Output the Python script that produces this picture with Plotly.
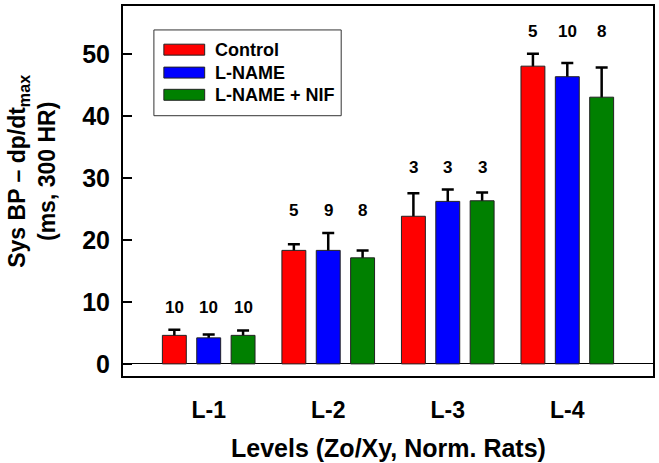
import plotly.graph_objects as go

levels = ["L-1", "L-2", "L-3", "L-4"]
groups = ["Control", "L-NAME", "L-NAME + NIF"]
colors = ["#FF0000", "#0000FF", "#008000"]

control_mean = [4.6, 18.3, 23.8, 48.0]
control_err = [0.9, 1.0, 3.7, 2.0]
lname_mean = [4.2, 18.3, 26.2, 46.3]
lname_err = [0.55, 2.8, 1.9, 2.2]
nif_mean = [4.6, 17.1, 26.3, 43.0]
nif_err = [0.8, 1.2, 1.35, 4.8]

n_control = ["10", "5", "3", "5"]
n_lname = ["10", "9", "3", "10"]
n_nif = ["10", "8", "3", "8"]

means = [control_mean, lname_mean, nif_mean]
errs = [control_err, lname_err, nif_err]
ns = [n_control, n_lname, n_nif]

FONT = "Liberation Sans, Arial, sans-serif"

fig = go.Figure()
# error bars (drawn first so the lower half is hidden behind the bars)
for i, g in enumerate(groups):
    fig.add_trace(go.Bar(
        x=levels, y=means[i], offsetgroup=str(i), showlegend=False,
        marker=dict(color="rgba(0,0,0,0)", line=dict(width=0)),
        error_y=dict(type="data", array=errs[i], symmetric=True,
                     color="black", thickness=2.5, width=6),
        hoverinfo="skip"))
for i, g in enumerate(groups):
    fig.add_trace(go.Bar(
        x=levels, y=means[i], offsetgroup=str(i), name=g, showlegend=False,
        marker=dict(color=colors[i], line=dict(color="#222222", width=1))))

annotations = []
# N labels above each group
for j, lev in enumerate(levels):
    top = max(means[i][j] + errs[i][j] for i in range(3))
    for i in range(3):
        annotations.append(dict(
            x=lev, y=top + 3.6, xref="x", yref="y", text=ns[i][j],
            showarrow=False, xshift=(i - 1) * 34.5,
            font=dict(family=FONT, size=17, color="black", weight="bold")))

# axis titles
annotations.append(dict(
    x=0.5, y=-0.195, xref="paper", yref="paper",
    text="Levels (Zo/Xy, Norm. Rats)", showarrow=False,
    xanchor="center", yanchor="middle",
    font=dict(family=FONT, size=25, color="black", weight="bold")))
annotations.append(dict(
    x=-0.171, y=0.553, xref="paper", yref="paper",
    text="Sys BP \u2013 dp/dt<sub>max</sub><br>(ms, 300 HR)", showarrow=False,
    textangle=-90, xanchor="center", yanchor="middle",
    font=dict(family=FONT, size=23, color="black", weight="bold")))

# custom legend
shapes = [dict(type="rect", xref="paper", yref="paper",
               x0=0.0583, x1=0.4117, y0=0.7035, y1=0.9353,
               line=dict(color="#333333", width=1), fillcolor="white", layer="below")]
row_y = [0.882, 0.820, 0.760]
for i, g in enumerate(groups):
    shapes.append(dict(type="rect", xref="paper", yref="paper",
                       x0=0.0771, x1=0.1541, y0=row_y[i] - 0.0148, y1=row_y[i] + 0.0148,
                       line=dict(color="#222222", width=1), fillcolor=colors[i]))
    annotations.append(dict(
        x=0.169, y=row_y[i], xref="paper", yref="paper", text=g,
        showarrow=False, xanchor="left", yanchor="middle",
        font=dict(family=FONT, size=18, color="black", weight="bold")))

fig.update_layout(
    width=659, height=463,
    margin=dict(l=123, r=4, t=5, b=87),
    paper_bgcolor="white", plot_bgcolor="white",
    barmode="group", bargap=0.1375, bargroupgap=0.304,
    showlegend=False,
    shapes=shapes, annotations=annotations,
    font=dict(family=FONT, color="black"),
    xaxis=dict(range=[-0.717, 3.717], showline=True, mirror=True,
               linecolor="black", linewidth=2, ticks="", showgrid=False,
               tickfont=dict(family=FONT, size=23, color="black", weight="bold"),
               ticklabelstandoff=12),
    yaxis=dict(range=[-1.95, 57.7], showline=True, mirror=True,
               linecolor="black", linewidth=2, ticks="inside", ticklen=9,
               tickwidth=1.5, tickcolor="black",
               tickvals=[0, 10, 20, 30, 40, 50], showgrid=False,
               zeroline=True, zerolinecolor="black", zerolinewidth=1,
               tickfont=dict(family=FONT, size=25, color="black", weight="bold"),
               ticklabelstandoff=6),
)

fig.write_html("out.html")
